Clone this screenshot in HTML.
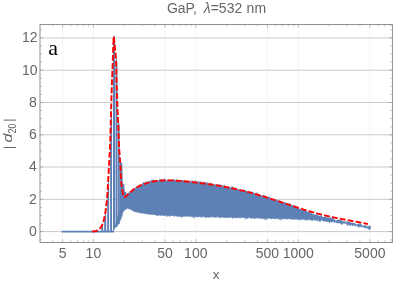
<!DOCTYPE html>
<html><head><meta charset="utf-8"><title>GaP plot</title>
<style>html,body{margin:0;padding:0;background:#fff;}body{width:415px;height:283px;overflow:hidden;font-family:"Liberation Sans",sans-serif;}svg{display:block;will-change:transform;}</style>
</head><body>
<svg width="415" height="283" viewBox="0 0 415 283">
<rect width="415" height="283" fill="#fff"/>
<path d="M62.6 24.45V242.4M93.4 24.45V242.4M165 24.45V242.4M195.8 24.45V242.4M267.4 24.45V242.4M298.3 24.45V242.4M369.9 24.45V242.4" stroke="#f1f1f1" stroke-width="0.75" fill="none"/>
<path d="M40.0 231.6H392.4M40.0 199.3H392.4M40.0 167H392.4M40.0 134.8H392.4M40.0 102.5H392.4M40.0 70.2H392.4M40.0 37.9H392.4" stroke="#cbcbcb" stroke-width="1" fill="none"/>
<path d="M113 230.8 113.5 229.7 114 228.7 114.5 227.6 115 226.5 115.5 225 116 223 116.5 221 117 219 117.5 217 118 215.8 118.5 214.6 119 213.4 119.5 212.2 120 163 120.5 163 121 163 121.5 163 122 163 122.5 184 123 184 123.5 184 124 184 124.5 192 125 192 125.5 192 126 192 126.5 195.8 127 194.8 127.5 193.7 128 193.9 128.5 192.8 129 192.8 129.5 192.3 130 192.3 130.5 192 131 191.5 131.5 191.1 132 189.5 132.5 189.9 133 188.7 133.5 189.3 134 189.2 134.5 188.7 135 188.4 135.5 188 136 187.2 136.5 186.9 137 186.4 137.5 186.7 138 186.1 138.5 186.4 139 186.2 139.5 185.9 140 184.5 140.5 185.3 141 185.2 141.5 184.7 142 184.8 142.5 183.5 143 182.6 143.5 183.8 144 181.9 144.5 183.7 145 182.8 145.5 183.3 146 181.2 146.5 182.2 147 182.6 147.5 182.9 148 182.1 148.5 180.9 149 182.2 149.5 182.3 150 180.8 150.5 181.5 151 180.5 151.5 181.8 152 179.6 152.5 180.9 153 180.2 153.5 179.4 154 181.4 154.5 180.9 155 180.2 155.5 181.1 156 181.1 156.5 180.6 157 180.6 157.5 180.6 158 180.8 158.5 180.6 159 180.8 159.5 179.9 160 179.2 160.5 180.3 161 180.3 161.5 178.9 162 179.5 162.5 180.5 163 179.6 163.5 179.9 164 180.4 164.5 178.3 165 180 165.5 179.7 166 180.5 166.5 180.4 167 180.4 167.5 180.3 168 179.4 168.5 179.9 169 179.7 169.5 179.9 170 180.4 170.5 180 171 180 171.5 180.5 172 179.7 172.5 180.3 173 179.8 173.5 178.9 174 180.2 174.5 179.9 175 179.9 175.5 180.7 176 180.6 176.5 179.5 177 180.6 177.5 180.6 178 180.7 178.5 180.9 179 180.8 179.5 180.9 180 180.8 180.5 180.2 181 180.8 181.5 180.3 182 179.8 182.5 181.1 183 180.2 183.5 180.6 184 181.3 184.5 180.9 185 181 185.5 181.1 186 180.7 186.5 180.8 187 181.2 187.5 180.8 188 181.7 188.5 181.3 189 181.2 189.5 181.5 190 180.6 190.5 182 191 181.7 191.5 182 192 180.3 192.5 180.9 193 181.9 193.5 182 194 182.2 194.5 181.3 195 181.1 195.5 180.4 196 182.4 196.5 182.5 197 182.3 197.5 181.5 198 181.1 198.5 182.1 199 182.8 199.5 182.7 200 180.9 200.5 182.7 201 183.1 201.5 181.9 202 183.3 202.5 183.3 203 182.7 203.5 183.3 204 181.5 204.5 182.5 205 183.5 205.5 182.6 206 182.5 206.5 183.7 207 181.9 207.5 183.7 208 183.6 208.5 184.2 209 183.7 209.5 183.8 210 184 210.5 184 211 182.6 211.5 184.5 212 184.6 212.5 184.5 213 184.8 213.5 184.3 214 184.6 214.5 184.1 215 185 215.5 185.2 216 185.3 216.5 185.4 217 184.1 217.5 184 218 184.9 218.5 185.5 219 185.7 219.5 183.9 220 185 220.5 185.9 221 184.8 221.5 185.4 222 184.8 222.5 186.2 223 186.4 223.5 186.7 224 185 224.5 184.9 225 186.6 225.5 186 226 186.6 226.5 186.3 227 187.2 227.5 187.2 228 187.3 228.5 186.9 229 187.1 229.5 187.2 230 187.4 230.5 187.9 231 187.6 231.5 187.8 232 186.1 232.5 187.3 233 188.5 233.5 187 234 188.6 234.5 188.3 235 188.9 235.5 188.4 236 188.5 236.5 188.3 237 189.1 237.5 189.4 238 189.4 238.5 189.5 239 189.6 239.5 190 240 189.8 240.5 190.2 241 190.3 241.5 190.4 242 190.5 242.5 190.6 243 190.4 243.5 189.5 244 190.1 244.5 190.1 245 190.9 245.5 190.7 246 190.7 246.5 191.2 247 191.5 247.5 191.6 248 191.7 248.5 191.9 249 192.3 249.5 192.1 250 191.8 250.5 192.3 251 191.7 251.5 192.9 252 191.6 252.5 193.3 253 192.1 253.5 193.2 254 193.3 254.5 193.8 255 193.9 255.5 193.5 256 193.8 256.5 193.8 257 192.4 257.5 194.4 258 193.8 258.5 194.5 259 195.2 259.5 194.9 260 194.8 260.5 195.6 261 195.2 261.5 195.8 262 196 262.5 195.9 263 195.9 263.5 194.8 264 196.7 264.5 196.8 265 195.2 265.5 196.7 266 197.1 266.5 196.5 267 196.8 267.5 197.6 268 197.7 268.5 197.3 269 197.3 269.5 196.3 270 198.4 270.5 197.9 271 198.7 271.5 198.4 272 198.5 272.5 198.8 273 199.5 273.5 199.6 274 199.8 274.5 199.3 275 199.9 275.5 200.3 276 200.4 276.5 199.5 277 200.2 277.5 200.1 278 201.2 278.5 201 279 200.3 279.5 201.3 280 201.3 280.5 200.9 281 201.3 281.5 201.9 282 202.2 282.5 202.5 283 202.8 283.5 202.2 284 202.8 284.5 202 285 202.1 285.5 203.5 286 203 286.5 203.9 287 204 287.5 204.2 288 204.4 288.5 204.6 289 204.4 289.5 202.8 290 205.1 290.5 204.5 291 205.4 291.5 205.3 292 205.2 292.5 205.7 293 205.6 293.5 205.5 294 205.3 294.5 206.4 295 205.9 295.5 206.6 296 206.4 296.5 206.8 297 208 297.5 206.5 298 208 298.5 207.5 299 208.7 299.5 209 300 209.1 300.5 209.6 301 210 301.5 210.2 302 209.6 302.5 209.7 303 210 303.5 210.2 304 209.9 304.5 210.1 305 210.3 305.5 210.5 306 211.3 306.5 211.4 307 211.4 307.5 211.5 308 212.4 308.5 212.6 309 211.9 309.5 212 310 212.1 310.5 212.3 311 213.3 311.5 213.4 312 214 312.5 214.2 313 214.2 313.5 214.3 314 214.6 314.5 214.8 315 214.9 315.5 215.1 316 214.1 316.5 214.2 317 214.9 317.5 215 318 215.6 318.5 215.7 319 215.8 319.5 216 320 215.8 320.5 215.9 321 215.5 321.5 215.6 322 216.9 322.5 217 323 217.2 323.5 217.3 324 216.8 324.5 216.9 325 216.8 325.5 216.9 326 216.4 326.5 216.6 327 217.7 327.5 217.8 328 217.6 328.5 217.8 329 218.1 329.5 218.2 330 217.6 330.5 217.7 331 217.7 331.5 217.9 332 218.7 332.5 218.8 333 218.3 333.5 218.4 334 219.6 334.5 219.7 335 220.3 335.5 220.4 336 220.4 336.5 220.5 337 219.8 337.5 219.9 338 219.8 338.5 219.9 339 220 339.5 220.1 340 220 340.5 220.1 341 220.1 341.5 220.2 342 221.3 342.5 221.4 343 221.4 343.5 221.5 344 221.1 344.5 221.2 345 222.1 345.5 222.2 346 222.1 346.5 222.2 347 221.2 347.5 221.3 348 222.1 348.5 222.2 349 222.3 349.5 222.3 350 222.1 350.5 222.2 351 223 351.5 223.1 352 223 352.5 223.1 353 222.9 353.5 223 354 223.1 354.5 223.2 355 223.6 355.5 223.7 356 224.5 356.5 224.5 357 224.5 357.5 224.6 358 224.2 358.5 224.3 359 223.6 359.5 223.7 360 224.1 360.5 224.2 361 224.3 361.5 224.4 362 225.7 362.5 225.8 363 226 363.5 226.1 364 225.5 364.5 225.6 365 224.8 365.5 225 366 225.9 366.5 226 367 226.3 367.5 226.4 368 226.4 368.5 226.4 369 225.9 369.5 225.9 370 226 370.5 226 370.5 229 370 228.9 369.5 229.7 369 229.6 368.5 228.9 368 228.8 367.5 228.2 367 228.1 366.5 227.5 366 227.4 365.5 228.2 365 228.1 364.5 227.6 364 227.5 363.5 227.1 363 227 362.5 226.8 362 226.7 361.5 226.9 361 226.8 360.5 226.8 360 226.7 359.5 226.7 359 226.6 358.5 227.4 358 227.3 357.5 226.1 357 226 356.5 225.4 356 225.3 355.5 226.2 355 226.1 354.5 225.4 354 225.3 353.5 224.9 353 224.9 352.5 225.9 352 225.8 351.5 224.5 351 224.4 350.5 225.5 350 225.4 349.5 225.4 349 225.3 348.5 224.4 348 224.3 347.5 225.4 347 225.3 346.5 223.5 346 223.4 345.5 223.7 345 223.6 344.5 223.3 344 223.2 343.5 223.2 343 223.1 342.5 224.3 342 224.2 341.5 224.3 341 224.3 340.5 222.9 340 222.9 339.5 222.9 339 222.8 338.5 223.1 338 223.1 337.5 222.9 337 222.8 336.5 222.4 336 222.3 335.5 221.9 335 221.8 334.5 222.6 334 222.5 333.5 221.5 333 221.5 332.5 221.8 332 221.7 331.5 222.2 331 222.1 330.5 221.8 330 221.8 329.5 222.7 329 222.6 328.5 221.3 328 221.2 327.5 221.8 327 221.7 326.5 221.5 326 221.5 325.5 221.3 325 221.3 324.5 221 324 220.9 323.5 221.3 323 221.3 322.5 220.2 322 220.2 321.5 220.2 321 220.1 320.5 221.6 320 221.5 319.5 221.6 319 221.5 318.5 219.9 318 219.9 317.5 221 317 220.9 316.5 219.7 316 219.6 315.5 220.6 315 220.6 314.5 219.9 314 219.9 313.5 219.5 313 219.5 312.5 220.8 312 220.7 311.5 220.2 311 220.2 310.5 219.7 310 219.7 309.5 219.7 309 219.7 308.5 219.8 308 219.7 307.5 219.7 307 219.7 306.5 220.5 306 220.5 305.5 219 305 218.9 304.5 219.9 304 219.9 303.5 218.7 303 218.7 302.5 219.9 302 219.9 301.5 219.3 301 219.3 300.5 219 300 220.3 299.5 219.9 299 219.6 298.5 219.4 298 219.5 297.5 219.3 297 219.3 296.5 219.1 296 219.6 295.5 219.1 295 219.3 294.5 219.2 294 219.3 293.5 219.4 293 219.3 292.5 219.3 292 219 291.5 219.3 291 218.7 290.5 218.9 290 218.9 289.5 219.2 289 218.6 288.5 218.6 288 218.7 287.5 218.9 287 218.8 286.5 219.2 286 219 285.5 218.8 285 218.9 284.5 218.4 284 218.7 283.5 219.1 283 218.9 282.5 218.5 282 219.1 281.5 219 281 220.2 280.5 219.1 280 218.4 279.5 219 279 219.8 278.5 218.5 278 218.4 277.5 218.4 277 218.4 276.5 218.9 276 218.3 275.5 218.9 275 218.9 274.5 218.8 274 218.1 273.5 218.9 273 218.9 272.5 218.3 272 218.8 271.5 218.9 271 218.9 270.5 218.3 270 218.2 269.5 218.2 269 218.4 268.5 218.2 268 218.6 267.5 218 267 218.3 266.5 220 266 219.6 265.5 218.4 265 218 264.5 219.7 264 218.3 263.5 218.5 263 218.1 262.5 219.2 262 218.4 261.5 218.6 261 217.9 260.5 218.1 260 218.6 259.5 218.6 259 217.8 258.5 218.3 258 217.9 257.5 217.8 257 218.2 256.5 218 256 218.5 255.5 218 255 218.4 254.5 218.5 254 218.6 253.5 218.5 253 217.8 252.5 217.9 252 217.7 251.5 218.5 251 218.5 250.5 217.9 250 218.2 249.5 217.5 249 217.9 248.5 217.6 248 217.7 247.5 219 247 218 246.5 217.9 246 217.5 245.5 219.4 245 217.8 244.5 217.6 244 217.6 243.5 218 243 217.4 242.5 217.5 242 217.8 241.5 217.6 241 217.9 240.5 217.8 240 218.1 239.5 218.1 239 217.5 238.5 217.6 238 218.1 237.5 217.9 237 217.7 236.5 217.7 236 217.4 235.5 218.2 235 217.4 234.5 217.8 234 217.9 233.5 217.5 233 217.3 232.5 218.8 232 217.2 231.5 217.3 231 217.4 230.5 217.3 230 217.4 229.5 217.2 229 217.7 228.5 217.5 228 217.1 227.5 217.9 227 218.2 226.5 217.1 226 217.3 225.5 217.7 225 217.4 224.5 217.9 224 217 223.5 217.6 223 217.6 222.5 217.2 222 217.1 221.5 217.5 221 216.9 220.5 217.7 220 218.3 219.5 217 219 217.2 218.5 217.1 218 216.8 217.5 217.1 217 217.6 216.5 216.8 216 217.1 215.5 217.2 215 217.7 214.5 217 214 216.9 213.5 216.9 213 216.7 212.5 216.9 212 216.7 211.5 216.9 211 217.3 210.5 216.7 210 217.2 209.5 217.3 209 216.9 208.5 217.4 208 217.3 207.5 217.2 207 216.8 206.5 217.5 206 217 205.5 217.9 205 217 204.5 216.7 204 216.6 203.5 216.8 203 216.9 202.5 216.7 202 216.6 201.5 217.4 201 217.3 200.5 216.8 200 216.7 199.5 216.8 199 216.5 198.5 216.8 198 216.9 197.5 217.1 197 216.5 196.5 217.2 196 216.4 195.5 216.9 195 216.6 194.5 216.4 194 218.4 193.5 216.5 193 217.3 192.5 216.9 192 216.3 191.5 216.7 191 216.4 190.5 216.6 190 216.3 189.5 216.5 189 216.7 188.5 216.1 188 216.3 187.5 216.6 187 216.4 186.5 216.2 186 216.2 185.5 216.5 185 215.9 184.5 216.5 184 216.2 183.5 216.5 183 216.7 182.5 216.4 182 216.4 181.5 217.9 181 216.1 180.5 216.4 180 216 179.5 216.7 179 217 178.5 216.1 178 216.6 177.5 216.6 177 216.1 176.5 216.3 176 215.8 175.5 215.7 175 216.2 174.5 216.5 174 216.3 173.5 215.6 173 216 172.5 215.5 172 215.7 171.5 215.6 171 215.6 170.5 216.2 170 216.2 169.5 216.1 169 215.7 168.5 215.9 168 215.5 167.5 215.3 167 216.8 166.5 216.1 166 215.5 165.5 215.1 165 215.4 164.5 215.9 164 216 163.5 215.2 163 215.9 162.5 215.2 162 215.1 161.5 215.1 161 215.7 160.5 215.5 160 215.2 159.5 215.2 159 215.2 158.5 215.1 158 215 157.5 216.1 157 215 156.5 215.3 156 215.2 155.5 214.9 155 214.5 154.5 215.1 154 214.2 153.5 214.7 153 214.8 152.5 214.2 152 214.3 151.5 214.6 151 214.6 150.5 214.6 150 214.5 149.5 213.9 149 213.9 148.5 214.5 148 214.5 147.5 213.8 147 213.8 146.5 214.1 146 214.1 145.5 213.4 145 213.7 144.5 213.4 144 213.9 143.5 213 143 213.4 142.5 213 142 213.1 141.5 213.2 141 213.5 140.5 212.9 140 213 139.5 212.7 139 212.3 138.5 212.3 138 212.1 137.5 212.3 137 212.7 136.5 211.8 136 212.1 135.5 212.1 135 211.5 134.5 211.6 134 211.1 133.5 211.5 133 210.6 132.5 210.9 132 209.9 131.5 209.8 131 209.3 130.5 209.4 130 209.1 129.5 209.4 129 208.2 128.5 209 128 208.6 127.5 208.3 127 208.7 126.5 208.7 126 209 125.5 209.8 125 209.9 124.5 210.3 124 210.6 123.5 211.8 123 212.1 122.5 213.9 122 216.3 121.5 217.1 121 218.9 120.5 220.1 120 220.8 119.5 221.9 119 222.6 118.5 224.2 118 225 117.5 225.3 117 226 116.5 226.2 116 227.1 115.5 227.3 115 227.7 114.5 228.2 114 229.2 113.5 229.9 113 231.2Z" fill="#5e81b5" stroke="#5e81b5" stroke-width="0.5" stroke-linejoin="round"/>
<path d="M61.7 231.6H114" stroke="#5e81b5" stroke-width="1.9" fill="none"/>
<path d="M101.3 231.8V227.7L102.1 225.5H102.5L103.2 227.5V231.8ZM104.2 231.8V219.4L105 214.1H105.5L106.2 216.1V231.8ZM107.2 231.7V197.7L108 181.7H108.4L109.1 183.7V231.7ZM110.1 231.7V144.8L110.9 110.4H111.3L112 112.4V231.7ZM113 229.5V42.1L113.7 35.1H114.3L115 42.1V229.5ZM115.5 226.9V65.5L116.2 58.5H116.8L117.4 65.5V226.9ZM117.8 223.9V125L118.4 123H119L119.7 125V223.9Z" fill="#5e81b5"/>
<path d="M92.1 231.5 92.9 231.5 93.7 231.4 94.5 231.3 95.3 231.2 96.1 231 96.9 230.7 97.6 230.5 98.3 230.1 98.9 229.6 99.5 229 100 228.4 100.5 227.7 101 227.1 101.4 226.4 101.8 225.7 102.2 225 102.5 224.2 102.8 223.5 103 222.8 103.3 222 103.5 221.2 103.7 220.4 103.9 219.7 104.1 218.9 104.3 218.1 104.4 217.3 104.6 216.5 104.8 215.7 104.9 214.9 105.1 214.1 105.2 213.3 105.3 212.5 105.5 211.8 105.6 211 105.7 210.2 105.8 209.4 105.9 208.6 106 207.8 106.1 207 106.2 206.2 106.3 205.4 106.4 204.6 106.5 203.8 106.6 203 106.7 202.2 106.8 201.4 106.9 200.6 106.9 199.8 107 199 107.1 198.2 107.1 197.4 107.2 196.6 107.2 195.8 107.3 195 107.4 194.2 107.4 193.4 107.5 192.6 107.5 191.8 107.6 191 107.6 190.2 107.7 189.4 107.7 188.6 107.8 187.8 107.8 187 107.8 186.2 107.9 185.4 107.9 184.6 108 183.8 108 183 108.1 182.2 108.1 181.4 108.2 180.6 108.2 179.8 108.3 179 108.3 178.1 108.4 177.3 108.4 176.5 108.4 175.7 108.5 174.9 108.5 174.1 108.6 173.3 108.6 172.5 108.7 171.7 108.7 170.9 108.8 170.1 108.8 169.3 108.8 168.5 108.9 167.7 108.9 166.9 109 166.1 109 165.3 109.1 164.5 109.1 163.7 109.1 162.9 109.2 162.1 109.2 161.3 109.3 160.5 109.3 159.7 109.4 158.9 109.4 158.1 109.5 157.3 109.5 156.5 109.5 155.7 109.6 154.9 109.6 154.1 109.7 153.3 109.7 152.5 109.8 151.7 109.8 150.9 109.9 150.1 109.9 149.3 109.9 148.5 110 147.7 110 146.9 110.1 146.1 110.1 145.3 110.1 144.5 110.1 143.7 110.2 142.9 110.2 142.1 110.2 141.3 110.3 140.4 110.3 139.6 110.3 138.8 110.3 138 110.4 137.2 110.4 136.4 110.4 135.6 110.4 134.8 110.4 134 110.5 133.2 110.5 132.4 110.5 131.6 110.5 130.8 110.5 130 110.6 129.2 110.6 128.4 110.6 127.6 110.6 126.8 110.6 126 110.7 125.2 110.7 124.4 110.7 123.6 110.7 122.8 110.7 122 110.8 121.2 110.8 120.4 110.8 119.6 110.8 118.8 110.9 118 110.9 117.2 110.9 116.4 110.9 115.6 111 114.8 111 113.9 111 113.1 111 112.3 111 111.5 111.1 110.7 111.1 109.9 111.1 109.1 111.1 108.3 111.2 107.5 111.2 106.7 111.2 105.9 111.2 105.1 111.3 104.3 111.3 103.5 111.3 102.7 111.3 101.9 111.4 101.1 111.4 100.3 111.4 99.5 111.4 98.7 111.4 97.9 111.5 97.1 111.5 96.3 111.5 95.5 111.5 94.7 111.6 93.9 111.6 93.1 111.6 92.3 111.7 91.5 111.7 90.7 111.7 89.9 111.7 89.1 111.8 88.3 111.8 87.5 111.8 86.7 111.8 85.8 111.9 85 111.9 84.2 111.9 83.4 112 82.6 112 81.8 112 81 112 80.2 112.1 79.4 112.1 78.6 112.1 77.8 112.2 77 112.2 76.2 112.2 75.4 112.3 74.6 112.3 73.8 112.3 73 112.4 72.2 112.4 71.4 112.4 70.6 112.4 69.8 112.5 69 112.5 68.2 112.5 67.4 112.6 66.6 112.6 65.8 112.6 65 112.7 64.2 112.7 63.4 112.7 62.6 112.7 61.8 112.8 61 112.8 60.2 112.8 59.4 112.8 58.6 112.9 57.8 112.9 57 112.9 56.1 112.9 55.3 113 54.5 113 53.7 113 52.9 113 52.1 113.1 51.3 113.1 50.5 113.1 49.7 113.1 48.9 113.2 48.1 113.2 47.3 113.2 46.5 113.3 45.7 113.3 44.9 113.3 44.1 113.4 43.3 113.4 42.5 113.5 41.7 113.6 40.9 113.6 40.1 113.7 39.3 113.8 38.5 113.8 37.7 113.9 36.9" stroke="#f00" stroke-width="1.9" stroke-dasharray="5.918 2.17" fill="none" stroke-linejoin="round"/>
<path d="M113.6 40.1 113.7 39.3 113.8 38.5 113.8 37.7 113.9 36.9" stroke="#f00" stroke-width="1.9" fill="none" stroke-linejoin="round"/>
<path d="M113.9 36.9 114 37.7 114.1 38.5 114.1 39.3 114.2 40.1 114.3 40.9 114.4 41.7 114.5 42.5 114.5 43.3 114.6 44.1 114.7 44.9 114.8 45.7 114.8 46.5 114.9 47.3 115 48.1 115.1 48.9 115.2 49.7 115.2 50.5 115.3 51.3 115.4 52.1 115.5 52.9 115.6 53.7 115.6 54.5 115.7 55.3 115.8 56.1 115.8 56.9 115.9 57.7 115.9 58.5 116 59.3 116 60.1 116 60.9 116.1 61.7 116.1 62.5 116.1 63.3 116.2 64.1 116.2 64.9 116.2 65.7 116.2 66.5 116.3 67.3 116.3 68.1 116.3 68.9 116.3 69.7 116.3 70.5 116.4 71.3 116.4 72.1 116.4 72.9 116.4 73.7 116.4 74.5 116.4 75.3 116.5 76.1 116.5 76.9 116.5 77.7 116.5 78.5 116.5 79.3 116.5 80.1 116.6 80.9 116.6 81.7 116.6 82.5 116.6 83.3 116.6 84.1 116.7 84.9 116.7 85.7 116.7 86.5 116.7 87.3 116.7 88.1 116.8 88.9 116.8 89.7 116.8 90.5 116.8 91.3 116.9 92.1 116.9 92.9 116.9 93.7 117 94.5 117 95.3 117 96.2 117 97 117.1 97.8 117.1 98.6 117.1 99.4 117.2 100.2 117.2 101 117.2 101.8 117.3 102.6 117.3 103.4 117.3 104.2 117.4 105 117.4 105.8 117.4 106.6 117.5 107.4 117.5 108.2 117.5 109 117.6 109.8 117.6 110.6 117.6 111.4 117.7 112.2 117.7 113 117.7 113.8 117.8 114.6 117.8 115.4 117.8 116.2 117.9 117 117.9 117.8 117.9 118.6 118 119.4 118 120.2 118 121 118.1 121.8 118.1 122.6 118.1 123.4 118.2 124.2 118.2 125 118.2 125.8 118.3 126.6 118.3 127.4 118.3 128.2 118.3 129 118.4 129.8 118.4 130.6 118.4 131.4 118.5 132.2 118.5 133 118.5 133.8 118.5 134.6 118.6 135.4 118.6 136.2 118.6 137 118.7 137.8 118.7 138.6 118.7 139.4 118.8 140.2 118.8 141 118.8 141.8 118.9 142.6 118.9 143.4 119 144.2 119 145 119 145.8 119.1 146.6 119.1 147.4 119.2 148.2 119.2 149 119.3 149.8 119.3 150.6 119.4 151.4 119.4 152.2 119.5 153.1 119.6 153.9 119.6 154.7 119.7 155.5 119.7 156.3 119.8 157.1 119.8 157.9 119.9 158.7 120 159.5 120 160.3 120.1 161.1 120.1 161.9 120.2 162.7 120.2 163.5 120.3 164.3 120.3 165.1 120.4 165.9 120.4 166.7 120.5 167.5 120.5 168.3 120.5 169.1 120.6 169.9 120.6 170.7 120.6 171.5 120.6 172.3 120.7 173.1 120.7 173.9 120.7 174.7 120.8 175.5 120.8 176.3 120.8 177.1 120.9 177.9 120.9 178.7 121 179.5 121.1 180.3 121.1 181.1 121.2 181.9 121.3 182.7 121.4 183.5 121.5 184.3 121.6 185.1 121.7 185.9 121.8 186.7 121.9 187.4 122 188.2 122.1 189 122.3 189.8 122.4 190.6 122.6 191.4 122.7 192.2 122.9 193 123.1 194 123.2 195 123.4 196 123.6 196.7 123.9 197.1 124.4 197.1 125.3 196.8 125.9 196.4 126.5 195.8 127.1 195.3 127.7 194.7 128.2 194.1 128.8 193.6 129.4 193 129.9 192.4 130.5 191.9 131.1 191.4 131.8 190.9 132.4 190.4 133 189.9 133.7 189.4 134.3 188.9 135 188.5 135.7 188 136.3 187.6 137 187.2 137.7 186.8 138.4 186.4 139.2 186.1 139.9 185.7 140.6 185.4 141.3 185 142.1 184.7 142.8 184.4 143.6 184.1 144.3 183.9 145.1 183.6 145.8 183.3 146.6 183.1 147.4 182.9 148.1 182.7 148.9 182.4 149.7 182.3 150.5 182.1 151.3 181.9 152 181.7 152.8 181.6 153.6 181.4 154.4 181.3 155.2 181.2 156 181.1 156.8 181 157.6 180.9 158.4 180.8 159.2 180.7 160 180.6 160.8 180.6 161.6 180.5 162.4 180.5 163.2 180.5 164 180.4 164.8 180.4 165.6 180.4 166.4 180.4 167.2 180.4 168 180.4 168.8 180.4 169.6 180.4 170.4 180.4 171.2 180.4 172 180.4 172.8 180.5 173.6 180.5 174.4 180.6 175.2 180.6 176 180.6 176.8 180.7 177.6 180.7 178.4 180.8 179.2 180.9 180 180.9 180.8 181 181.6 181 182.4 181.1 183.2 181.2 184 181.3 184.8 181.3 185.6 181.4 186.4 181.5 187.2 181.6 188 181.7 188.8 181.7 189.6 181.8 190.4 181.9 191.2 182 192 182.1 192.8 182.2 193.6 182.3 194.4 182.4 195.2 182.5 196 182.5 196.8 182.6 197.6 182.7 198.4 182.8 199.2 182.9 200 183 200.8 183.1 201.5 183.2 202.3 183.3 203.1 183.4 203.9 183.5 204.7 183.7 205.5 183.8 206.3 183.9 207.1 184 207.9 184.1 208.7 184.2 209.5 184.3 210.3 184.4 211.1 184.5 211.9 184.7 212.7 184.8 213.5 184.9 214.3 185 215.1 185.2 215.8 185.3 216.6 185.4 217.4 185.5 218.2 185.7 219 185.8 219.8 185.9 220.6 186.1 221.4 186.2 222.2 186.3 223 186.5 223.8 186.6 224.5 186.8 225.3 186.9 226.1 187.1 226.9 187.2 227.7 187.4 228.5 187.5 229.3 187.7 230.1 187.8 230.8 188 231.6 188.2 232.4 188.3 233.2 188.5 234 188.7 234.8 188.8 235.5 189 236.3 189.2 237.1 189.4 237.9 189.5 238.7 189.7 239.5 189.9 240.2 190.1 241 190.3 241.8 190.5 242.6 190.6 243.4 190.8 244.1 191 244.9 191.2 245.7 191.4 246.5 191.6 247.2 191.8 248 192 248.8 192.2 249.6 192.4 250.3 192.6 251.1 192.9 251.9 193.1 252.7 193.3 253.4 193.5 254.2 193.7 255 193.9 255.8 194.1 256.5 194.4 257.3 194.6 258.1 194.8 258.8 195 259.6 195.3 260.4 195.5 261.1 195.7 261.9 196 262.7 196.2 263.4 196.4 264.2 196.7 265 196.9 265.7 197.1 266.5 197.4 267.3 197.6 268 197.8 268.8 198.1 269.6 198.3 270.3 198.6 271.1 198.8 271.9 199.1 272.6 199.3 273.4 199.6 274.2 199.8 274.9 200.1 275.7 200.3 276.4 200.6 277.2 200.8 278 201.1 278.7 201.3 279.5 201.6 280.3 201.8 281 202.1 281.8 202.3 282.5 202.6 283.3 202.8 284.1 203.1 284.8 203.3 285.6 203.6 286.3 203.8 287.1 204.1 287.9 204.4 288.6 204.6 289.4 204.9 290.1 205.1 290.9 205.4 291.7 205.6 292.4 205.9 293.2 206.1 294 206.4 294.7 206.6 295.5 206.9 296.2 207.1 297 207.4 297.8 207.6 298.5 207.9 299.3 208.1 300.1 208.4 300.8 208.6 301.6 208.8 302.4 209.1 303.1 209.3 303.9 209.6 304.7 209.8 305.4 210 306.2 210.3 307 210.5 307.7 210.7 308.5 210.9 309.3 211.2 310 211.4 310.8 211.6 311.6 211.8 312.3 212.1 313.1 212.3 313.9 212.5 314.7 212.7 315.4 212.9 316.2 213.1 317 213.3 317.8 213.6 318.5 213.8 319.3 214 320.1 214.2 320.9 214.4 321.6 214.6 322.4 214.8 323.2 215 324 215.1 324.8 215.3 325.5 215.5 326.3 215.7 327.1 215.9 327.9 216.1 328.7 216.3 329.4 216.4 330.2 216.6 331 216.8 331.8 217 332.6 217.1 333.4 217.3 334.1 217.5 334.9 217.6 335.7 217.8 336.5 218 337.3 218.1 338.1 218.3 338.9 218.4 339.6 218.6 340.4 218.8 341.2 218.9 342 219.1 342.8 219.2 343.6 219.4 344.4 219.5 345.2 219.7 345.9 219.8 346.7 220 347.5 220.1 348.3 220.3 349.1 220.4 349.9 220.6 350.7 220.7 351.5 220.8 352.2 221 353 221.1 353.8 221.3 354.6 221.4 355.4 221.6 356.2 221.7 357 221.9 357.8 222 358.6 222.2 359.3 222.3 360.1 222.5 360.9 222.6 361.7 222.8 362.5 222.9 363.3 223.1 364.1 223.2 364.9 223.4 365.6 223.5 366.4 223.7 367.2 223.9 368 224" stroke="#f00" stroke-width="1.9" stroke-dasharray="5.9 2.16" stroke-dashoffset="0.21" fill="none" stroke-linejoin="round"/>
<rect x="40.0" y="24.45" width="352.4" height="218" fill="none" stroke="#858585" stroke-width="0.9"/>
<path d="M40.0 239.7h2.0M392.4 239.7h-2.0M40.0 231.6h3.2M392.4 231.6h-3.2M40.0 223.5h2.0M392.4 223.5h-2.0M40.0 215.5h2.0M392.4 215.5h-2.0M40.0 207.4h2.0M392.4 207.4h-2.0M40.0 199.3h3.2M392.4 199.3h-3.2M40.0 191.2h2.0M392.4 191.2h-2.0M40.0 183.2h2.0M392.4 183.2h-2.0M40.0 175.1h2.0M392.4 175.1h-2.0M40.0 167h3.2M392.4 167h-3.2M40.0 159h2.0M392.4 159h-2.0M40.0 150.9h2.0M392.4 150.9h-2.0M40.0 142.8h2.0M392.4 142.8h-2.0M40.0 134.8h3.2M392.4 134.8h-3.2M40.0 126.7h2.0M392.4 126.7h-2.0M40.0 118.6h2.0M392.4 118.6h-2.0M40.0 110.5h2.0M392.4 110.5h-2.0M40.0 102.5h3.2M392.4 102.5h-3.2M40.0 94.4h2.0M392.4 94.4h-2.0M40.0 86.3h2.0M392.4 86.3h-2.0M40.0 78.3h2.0M392.4 78.3h-2.0M40.0 70.2h3.2M392.4 70.2h-3.2M40.0 62.1h2.0M392.4 62.1h-2.0M40.0 54.1h2.0M392.4 54.1h-2.0M40.0 46h2.0M392.4 46h-2.0M40.0 37.9h3.2M392.4 37.9h-3.2M40.0 29.8h2.0M392.4 29.8h-2.0M62.6 242.4v-3.2M62.6 24.45v3.2M93.4 242.4v-3.2M93.4 24.45v3.2M165 242.4v-3.2M165 24.45v3.2M195.8 242.4v-3.2M195.8 24.45v3.2M267.4 242.4v-3.2M267.4 24.45v3.2M298.3 242.4v-3.2M298.3 24.45v3.2M369.9 242.4v-3.2M369.9 24.45v3.2M52.6 242.4v-2M52.6 24.45v2M70.7 242.4v-2M70.7 24.45v2M77.5 242.4v-2M77.5 24.45v2M83.5 242.4v-2M83.5 24.45v2M88.7 242.4v-2M88.7 24.45v2M124.2 242.4v-2M124.2 24.45v2M142.3 242.4v-2M142.3 24.45v2M155.1 242.4v-2M155.1 24.45v2M173.1 242.4v-2M173.1 24.45v2M180 242.4v-2M180 24.45v2M185.9 242.4v-2M185.9 24.45v2M191.1 242.4v-2M191.1 24.45v2M226.7 242.4v-2M226.7 24.45v2M244.7 242.4v-2M244.7 24.45v2M257.5 242.4v-2M257.5 24.45v2M275.5 242.4v-2M275.5 24.45v2M282.4 242.4v-2M282.4 24.45v2M288.3 242.4v-2M288.3 24.45v2M293.6 242.4v-2M293.6 24.45v2M329.1 242.4v-2M329.1 24.45v2M347.1 242.4v-2M347.1 24.45v2M359.9 242.4v-2M359.9 24.45v2M378 242.4v-2M378 24.45v2M384.8 242.4v-2M384.8 24.45v2M390.8 242.4v-2M390.8 24.45v2" stroke="#8c8c8c" stroke-width="0.55" fill="none"/>
<g font-family="Liberation Sans, sans-serif" font-size="14" fill="#666">
<text x="36.8" y="236" text-anchor="end">0</text>
<text x="36.8" y="203.7" text-anchor="end">2</text>
<text x="36.8" y="171.4" text-anchor="end">4</text>
<text x="36.8" y="139.2" text-anchor="end">6</text>
<text x="36.8" y="106.9" text-anchor="end">8</text>
<text x="37.5" y="74.6" text-anchor="end">10</text>
<text x="37.5" y="42.3" text-anchor="end">12</text>
<text x="62.6" y="257.8" text-anchor="middle">5</text>
<text x="93.4" y="257.8" text-anchor="middle">10</text>
<text x="165" y="257.8" text-anchor="middle">50</text>
<text x="195.8" y="257.8" text-anchor="middle">100</text>
<text x="267.4" y="257.8" text-anchor="middle">500</text>
<text x="298.3" y="257.8" text-anchor="middle">1000</text>
<text x="369.9" y="257.8" text-anchor="middle">5000</text>
<text y="12.7"><tspan x="166.9">GaP,</tspan><tspan x="203.8" font-style="italic">λ</tspan>=532<tspan x="246.6">nm</tspan></text>
<text x="216.1" y="279.1" text-anchor="middle" font-size="13.5">x</text>
<g transform="translate(12.4 133.8) rotate(-90)"><path d="M-13.7 -8.8V3.5M13.7 -8.8V3.5" stroke="#666" stroke-width="1" fill="none"/><text transform="translate(-8.6 0) scale(1.18 1)" font-size="13.6" font-style="italic">d</text><text transform="translate(0.4 3.3) scale(0.84 1)" font-size="10.6">20</text></g>
</g>
<text x="48.3" y="54.5" font-family="Liberation Serif, serif" font-size="22" fill="#000">a</text>
</svg>
</body></html>
